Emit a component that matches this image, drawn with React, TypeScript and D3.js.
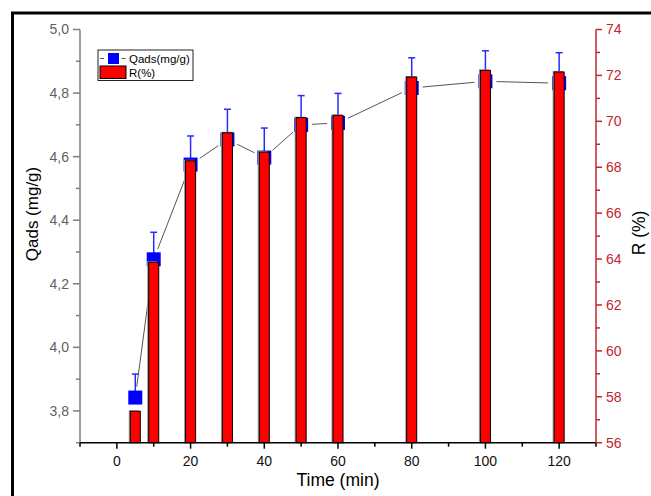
import * as d3 from "d3";

// Sampling times (min)
const times = [5, 10, 20, 30, 40, 50, 60, 80, 100, 120];
// Adsorbed quantity (mg/g) and its upper error
const qads = [3.842, 4.277, 4.575, 4.654, 4.597, 4.7, 4.706, 4.816, 4.837, 4.831];
const qadsErr = [0.074, 0.085, 0.09, 0.095, 0.093, 0.092, 0.093, 0.095, 0.096, 0.096];
// Removal efficiency (%)
const removal = [57.37, 63.86, 68.28, 69.5, 68.66, 70.16, 70.26, 71.93, 72.22, 72.15];

const xMajor = [0, 20, 40, 60, 80, 100, 120];
const xMinor = [-10, 10, 30, 50, 70, 90, 110, 130];
const qMajor = [3.8, 4.0, 4.2, 4.4, 4.6, 4.8, 5.0];
const qMinor = [3.7, 3.9, 4.1, 4.3, 4.5, 4.7, 4.9];
const rMajor = [56, 58, 60, 62, 64, 66, 68, 70, 72, 74];
const rMinor = [57, 59, 61, 63, 65, 67, 69, 71, 73];

const W = 651;
const H = 496;
const FONT = "Arial, 'Liberation Sans', sans-serif";
const RED_AXIS = "#c0272d";
const GRAY_AXIS = "#7f7f7f";

export default function App() {
  const x = d3.scaleLinear().domain([-10, 130]).range([80, 596]);
  const yQ = d3.scaleLinear().domain([3.7, 5.0]).range([442.7, 29.5]);
  const yR = d3.scaleLinear().domain([56, 74]).range([442.7, 29.5]);

  const left = x.range()[0];
  const right = x.range()[1];
  const bottom = yQ.range()[0];
  const top = yQ.range()[1];

  const barHalf = 1.36; // bar half-width in minutes
  const sq = 14;
  const gap = 11;

  const fmtQ = (v: number) => v.toFixed(1).replace(".", ",");

  // gapped connecting line segments
  const segs = times.slice(1).map((t, i) => {
    const x1 = x(times[i]);
    const y1 = yQ(qads[i]);
    const x2 = x(t);
    const y2 = yQ(qads[i + 1]);
    const len = Math.hypot(x2 - x1, y2 - y1);
    const ux = (x2 - x1) / len;
    const uy = (y2 - y1) / len;
    return { x1: x1 + ux * gap, y1: y1 + uy * gap, x2: x2 - ux * gap, y2: y2 - uy * gap, show: len > 2 * gap };
  });

  return (
    <svg
      width={W}
      height={H}
      style={{ position: "absolute", left: 0, top: 0, background: "#fff" }}
      fontFamily={FONT}
    >
      <rect x={0} y={0} width={W} height={H} fill="#fff" />
      <rect x={12.5} y={13} width={800} height={700} fill="none" stroke="#000" strokeWidth={3} />

      {/* connecting line */}
      {segs.map((s, i) =>
        s.show ? (
          <line key={"s" + i} x1={s.x1} y1={s.y1} x2={s.x2} y2={s.y2} stroke="#555" strokeWidth={1} />
        ) : null
      )}

      {/* error bars (plus only) */}
      {times.map((t, i) => {
        const cx = x(t);
        const yTop = yQ(qads[i] + qadsErr[i]);
        return (
          <g key={"e" + i} stroke="#2a2aff" strokeWidth={1.5}>
            <line x1={cx} x2={cx} y1={yQ(qads[i])} y2={yTop} />
            <line x1={cx - 3.5} x2={cx + 3.5} y1={yTop} y2={yTop} />
          </g>
        );
      })}

      {/* Qads squares */}
      {times.map((t, i) => (
        <rect key={"q" + i} x={x(t) - sq / 2} y={yQ(qads[i]) - sq / 2} width={sq} height={sq} fill="#0000ff" />
      ))}

      {/* R bars */}
      {times.map((t, i) => {
        const x0 = x(t - barHalf);
        const w = x(t + barHalf) - x0;
        const y0 = yR(removal[i]);
        return (
          <g key={"b" + i}>
            <rect x={x0 - 1.5} y={y0 - 1} width={w} height={bottom - y0 + 1} fill="#9a9a9a" />
            <rect x={x0} y={y0} width={w} height={bottom - y0} fill="#ff0000" stroke="#000" strokeWidth={1} />
          </g>
        );
      })}

      {/* left axis */}
      <line x1={left} x2={left} y1={top} y2={bottom} stroke={GRAY_AXIS} strokeWidth={1.5} />
      {qMajor.map((v) => (
        <g key={"ql" + v}>
          <line x1={left - 7} x2={left} y1={yQ(v)} y2={yQ(v)} stroke={GRAY_AXIS} strokeWidth={1.5} />
          <text x={left - 11} y={yQ(v)} dy="0.35em" textAnchor="end" fontSize={14} fill="#5f5f5f">
            {fmtQ(v)}
          </text>
        </g>
      ))}
      {qMinor.map((v) => (
        <line key={"qm" + v} x1={left - 4} x2={left} y1={yQ(v)} y2={yQ(v)} stroke={GRAY_AXIS} strokeWidth={1.5} />
      ))}

      {/* bottom axis */}
      <line x1={left} x2={right} y1={bottom} y2={bottom} stroke="#000" strokeWidth={1.5} />
      {xMajor.map((v) => (
        <g key={"xl" + v}>
          <line x1={x(v)} x2={x(v)} y1={bottom} y2={bottom + 6} stroke="#000" strokeWidth={1.5} />
          <text x={x(v)} y={bottom + 23} textAnchor="middle" fontSize={14} fill="#111">
            {v}
          </text>
        </g>
      ))}
      {xMinor.map((v) => (
        <line key={"xm" + v} x1={x(v)} x2={x(v)} y1={bottom} y2={bottom + 4} stroke="#000" strokeWidth={1.5} />
      ))}

      {/* right axis */}
      <line x1={right} x2={right} y1={top} y2={bottom} stroke={RED_AXIS} strokeWidth={1.5} />
      {rMajor.map((v) => (
        <g key={"rl" + v}>
          <line x1={right} x2={right + 6} y1={yR(v)} y2={yR(v)} stroke={RED_AXIS} strokeWidth={1.5} />
          <text x={right + 10} y={yR(v)} dy="0.35em" textAnchor="start" fontSize={14} fill={RED_AXIS}>
            {v}
          </text>
        </g>
      ))}
      {rMinor.map((v) => (
        <line key={"rm" + v} x1={right} x2={right + 4} y1={yR(v)} y2={yR(v)} stroke={RED_AXIS} strokeWidth={1.5} />
      ))}

      {/* axis titles */}
      <text transform="translate(38,214) rotate(-90)" textAnchor="middle" fontSize={17} fill="#000">
        Qads (mg/g)
      </text>
      <text x={338} y={486} textAnchor="middle" fontSize={17.5} fill="#000">
        Time (min)
      </text>
      <text transform="translate(645,233) rotate(-90)" textAnchor="middle" fontSize={17.5} fill="#000">
        R (%)
      </text>

      {/* legend */}
      <rect x={98} y={50} width={95} height={30.5} fill="#fff" stroke="#222" strokeWidth={1} />
      <line x1={100} x2={104} y1={58.5} y2={58.5} stroke="#555" strokeWidth={1} />
      <line x1={121.5} x2={125.5} y1={58.5} y2={58.5} stroke="#555" strokeWidth={1} />
      <rect x={108} y={53} width={11} height={11} fill="#0000ff" />
      <text x={129} y={62.5} fontSize={11.5} fill="#000">
        Qads(mg/g)
      </text>
      <rect x={100} y={66} width={26} height={12.5} fill="#ff0000" stroke="#000" strokeWidth={1} />
      <text x={129} y={76.5} fontSize={11.5} fill="#000">
        R(%)
      </text>
    </svg>
  );
}
